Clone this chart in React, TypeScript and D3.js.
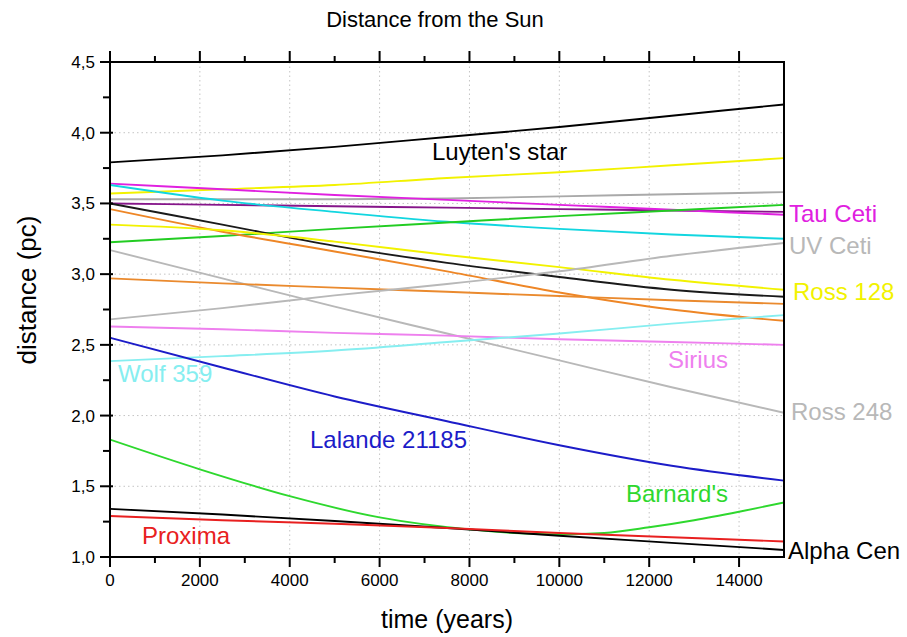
import React from "react";
import * as d3 from "d3";

// Canvas and plot frame
const WIDTH = 907;
const HEIGHT = 637;
const PLOT = { left: 110, right: 784, top: 62, bottom: 557 };

// Time samples (years from now)
const YEARS = [0, 2500, 5000, 7500, 10000, 12500, 15000];
const BARNARD_YEARS = [0, 2000, 4000, 6000, 8000, 9000, 10000, 11000, 12000, 13000, 14000, 15000];

// Distance from the Sun (pc) at each sample
const luytensStar = [3.79, 3.84, 3.9, 3.97, 4.04, 4.12, 4.2];
const yellowUpper = [3.57, 3.6, 3.63, 3.68, 3.72, 3.77, 3.82];
const grayUpper = [3.53, 3.53, 3.53, 3.535, 3.55, 3.565, 3.58];
const purpleStar = [3.5, 3.49, 3.48, 3.47, 3.46, 3.45, 3.44];
const tauCeti = [3.64, 3.6, 3.56, 3.525, 3.49, 3.455, 3.42];
const cyanUpper = [3.63, 3.52, 3.44, 3.37, 3.32, 3.28, 3.25];
const greenUpper = [3.225, 3.27, 3.32, 3.365, 3.41, 3.45, 3.49];
const blackUpper = [3.5, 3.35, 3.2, 3.08, 2.98, 2.89, 2.84];
const orangeUpper = [3.46, 3.3, 3.16, 3.02, 2.87, 2.75, 2.67];
const ross128 = [3.35, 3.31, 3.23, 3.135, 3.05, 2.96, 2.89];
const ross248 = [3.17, 2.97, 2.77, 2.58, 2.39, 2.2, 2.02];
const orangeLower = [2.97, 2.935, 2.905, 2.875, 2.845, 2.815, 2.79];
const uvCeti = [2.68, 2.76, 2.85, 2.93, 3.02, 3.13, 3.22];
const sirius = [2.63, 2.61, 2.585, 2.565, 2.54, 2.52, 2.5];
const wolf359 = [2.385, 2.42, 2.46, 2.52, 2.58, 2.65, 2.71];
const lalande21185 = [2.55, 2.34, 2.135, 1.96, 1.79, 1.645, 1.54];
const barnards = [1.83, 1.62, 1.43, 1.28, 1.195, 1.17, 1.16, 1.17, 1.21, 1.26, 1.32, 1.385];
const alphaCen = [1.34, 1.3, 1.255, 1.205, 1.15, 1.1, 1.05];
const proxima = [1.29, 1.26, 1.235, 1.205, 1.17, 1.14, 1.11];

// Axis ticks
const X_TICKS = [0, 2000, 4000, 6000, 8000, 10000, 12000, 14000];
const X_MINOR = d3.range(1000, 15000, 2000);
const Y_TICKS = [1.0, 1.5, 2.0, 2.5, 3.0, 3.5, 4.0, 4.5];
const Y_MINOR = d3.range(1.25, 4.5, 0.5);

type Series = { name: string; years: number[]; values: number[]; color: string };

const SERIES: Series[] = [
  { name: "Luyten's star", years: YEARS, values: luytensStar, color: "#000000" },
  { name: "yellow-upper", years: YEARS, values: yellowUpper, color: "#f2f200" },
  { name: "gray-upper", years: YEARS, values: grayUpper, color: "#a9a9a9" },
  { name: "purple", years: YEARS, values: purpleStar, color: "#86168a" },
  { name: "Tau Ceti", years: YEARS, values: tauCeti, color: "#e020e0" },
  { name: "cyan-upper", years: YEARS, values: cyanUpper, color: "#12d6e0" },
  { name: "green-upper", years: YEARS, values: greenUpper, color: "#22cc22" },
  { name: "black-upper", years: YEARS, values: blackUpper, color: "#1a1a1a" },
  { name: "orange-upper", years: YEARS, values: orangeUpper, color: "#ee8626" },
  { name: "Ross 128", years: YEARS, values: ross128, color: "#f2f200" },
  { name: "Ross 248", years: YEARS, values: ross248, color: "#b8b8b8" },
  { name: "orange-lower", years: YEARS, values: orangeLower, color: "#ea8a2e" },
  { name: "UV Ceti", years: YEARS, values: uvCeti, color: "#b8b8b8" },
  { name: "Sirius", years: YEARS, values: sirius, color: "#ee80ee" },
  { name: "Wolf 359", years: YEARS, values: wolf359, color: "#86eef0" },
  { name: "Lalande 21185", years: YEARS, values: lalande21185, color: "#1c1cc8" },
  { name: "Barnard's", years: BARNARD_YEARS, values: barnards, color: "#2ed82e" },
  { name: "Alpha Cen", years: YEARS, values: alphaCen, color: "#000000" },
  { name: "Proxima", years: YEARS, values: proxima, color: "#e82020" },
];

// Star name labels: anchor in data units, optional pixel offset past the right edge
const LABELS = [
  { text: "Luyten's star", t: 7166, v: 3.804, dx: 0, color: "#000000" },
  { text: "Tau Ceti", t: 15000, v: 3.366, dx: 5, color: "#e020e0" },
  { text: "UV Ceti", t: 15000, v: 3.14, dx: 5, color: "#b8b8b8" },
  { text: "Ross 128", t: 15000, v: 2.815, dx: 9, color: "#f2f200" },
  { text: "Sirius", t: 12418, v: 2.335, dx: 0, color: "#ee80ee" },
  { text: "Wolf 359", t: 178, v: 2.238, dx: 0, color: "#86eef0" },
  { text: "Ross 248", t: 15000, v: 1.967, dx: 7, color: "#b8b8b8" },
  { text: "Lalande 21185", t: 4451, v: 1.77, dx: 0, color: "#1c1cc8" },
  { text: "Barnard's", t: 11484, v: 1.39, dx: 0, color: "#2ed82e" },
  { text: "Proxima", t: 712, v: 1.092, dx: 0, color: "#e82020" },
  { text: "Alpha Cen", t: 15000, v: 0.986, dx: 4, color: "#000000" },
];

const FONT = "'Liberation Sans', Arial, Helvetica, sans-serif";

export default function App() {
  const x = d3.scaleLinear().domain([0, 15000]).range([PLOT.left, PLOT.right]);
  const y = d3.scaleLinear().domain([1, 4.5]).range([PLOT.bottom, PLOT.top]);
  const commaFmt = d3.formatLocale({ decimal: ",", thousands: "", grouping: [3], currency: ["", ""] }).format(".1f");

  const line = d3
    .line<[number, number]>()
    .x((d) => x(d[0]))
    .y((d) => y(d[1]))
    .curve(d3.curveMonotoneX);

  return (
    <svg
      width={WIDTH}
      height={HEIGHT}
      style={{ position: "absolute", left: 0, top: 0, background: "#ffffff" }}
      fontFamily={FONT}
    >
      <rect x={0} y={0} width={WIDTH} height={HEIGHT} fill="#ffffff" />
      <defs>
        <clipPath id="plotClip">
          <rect x={PLOT.left} y={PLOT.top} width={PLOT.right - PLOT.left} height={PLOT.bottom - PLOT.top} />
        </clipPath>
      </defs>

      {/* dotted grid */}
      <g stroke="#c4c4c4" strokeWidth={1} strokeDasharray="1.5,3">
        {X_TICKS.filter((t) => t > 0).map((t) => (
          <line key={"gx" + t} x1={x(t)} x2={x(t)} y1={PLOT.top} y2={PLOT.bottom} />
        ))}
        {Y_TICKS.filter((v) => v > 1 && v < 4.5).map((v) => (
          <line key={"gy" + v} x1={PLOT.left} x2={PLOT.right} y1={y(v)} y2={y(v)} />
        ))}
      </g>

      {/* trajectories */}
      <g fill="none" strokeWidth={1.9} strokeLinejoin="round" clipPath="url(#plotClip)">
        {SERIES.map((s) => (
          <path
            key={s.name}
            d={line(s.years.map((t, i) => [t, s.values[i]] as [number, number])) || ""}
            stroke={s.color}
          />
        ))}
      </g>

      {/* frame */}
      <g stroke="#000" strokeWidth={2} fill="none">
        <rect x={PLOT.left} y={PLOT.top} width={PLOT.right - PLOT.left} height={PLOT.bottom - PLOT.top} />
        {X_TICKS.map((t) => (
          <line key={"bx" + t} x1={x(t)} x2={x(t)} y1={PLOT.bottom} y2={PLOT.bottom + 10} />
        ))}
        {X_MINOR.map((t) => (
          <line key={"bm" + t} x1={x(t)} x2={x(t)} y1={PLOT.bottom} y2={PLOT.bottom + 6} />
        ))}
        {X_TICKS.map((t) => (
          <line key={"tx" + t} x1={x(t)} x2={x(t)} y1={PLOT.top} y2={PLOT.top - 11} />
        ))}
        {X_MINOR.map((t) => (
          <line key={"tm" + t} x1={x(t)} x2={x(t)} y1={PLOT.top} y2={PLOT.top - 6} />
        ))}
        {Y_TICKS.map((v) => (
          <line key={"ly" + v} x1={PLOT.left - 10} x2={PLOT.left + 3} y1={y(v)} y2={y(v)} />
        ))}
        {Y_MINOR.map((v) => (
          <line key={"lm" + v} x1={PLOT.left - 7} x2={PLOT.left} y1={y(v)} y2={y(v)} />
        ))}
      </g>

      {/* tick labels */}
      <g fontSize={17} fill="#000">
        {Y_TICKS.map((v) => (
          <text key={"yl" + v} x={PLOT.left - 15} y={y(v)} dy="0.35em" textAnchor="end">
            {commaFmt(v)}
          </text>
        ))}
        {X_TICKS.map((t) => (
          <text key={"xl" + t} x={x(t)} y={PLOT.bottom + 29} textAnchor="middle">
            {String(t)}
          </text>
        ))}
      </g>

      {/* star labels */}
      <g fontSize={24}>
        {LABELS.map((l) => (
          <text key={l.text} x={x(l.t) + l.dx} y={y(l.v)} fill={l.color}>
            {l.text}
          </text>
        ))}
      </g>

      {/* titles */}
      <text x={435} y={27} textAnchor="middle" fontSize={22} fill="#000">
        Distance from the Sun
      </text>
      <text x={447} y={628} textAnchor="middle" fontSize={25} fill="#000">
        time (years)
      </text>
      <text
        transform="translate(36, 290) rotate(-90)"
        textAnchor="middle"
        fontSize={26}
        fill="#000"
      >
        distance (pc)
      </text>
    </svg>
  );
}
